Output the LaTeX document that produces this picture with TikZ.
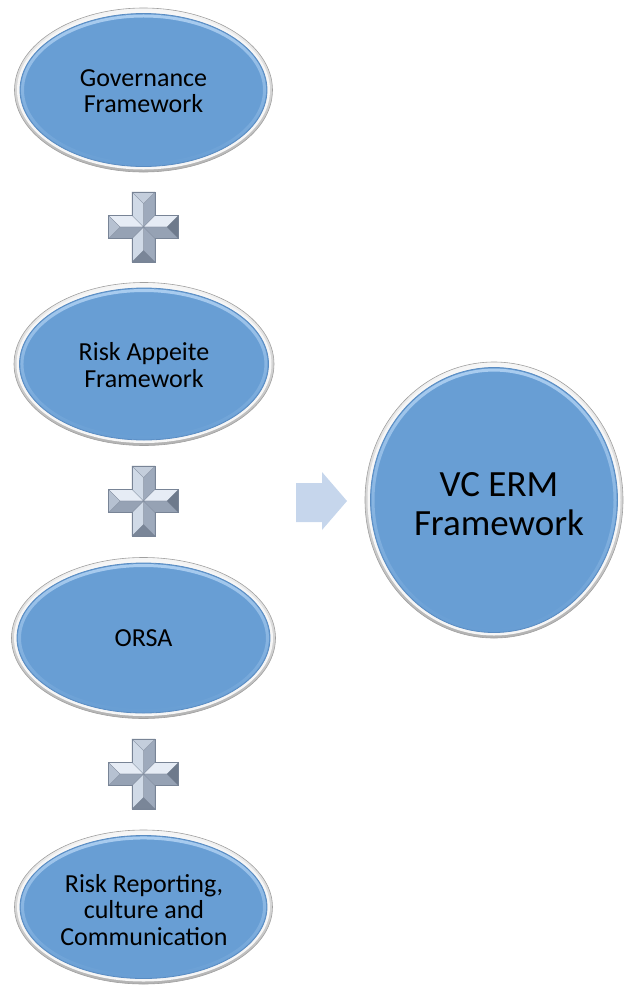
\documentclass[tikz,border=0pt]{standalone}
\usepackage{fontspec}
\setmainfont{Carlito}
\usetikzlibrary{shapes.geometric,fadings}

\definecolor{bubbleblue}{RGB}{104,158,212}
\definecolor{bubbleedge}{RGB}{90,140,194}
\definecolor{bubbleglow}{RGB}{170,205,240}
\definecolor{rimgray}{RGB}{160,160,160}
\definecolor{rimlight}{RGB}{246,246,246}
\definecolor{arrowblue}{RGB}{198,214,236}
\definecolor{plusA}{RGB}{230,236,245}
\definecolor{plusB}{RGB}{208,218,231}
\definecolor{plusC}{RGB}{158,170,188}
\definecolor{plusD}{RGB}{150,162,180}
\definecolor{plusE}{RGB}{196,206,220}
\definecolor{plusF}{RGB}{122,134,152}
\definecolor{plusG}{RGB}{182,193,209}
\definecolor{plusH}{RGB}{110,122,140}
\definecolor{plusline}{RGB}{120,132,150}

\tikzset{
  rimout/.style={ellipse, inner sep=0pt, draw=rimgray, line width=0.6pt,
    top color=rimlight, bottom color=rimgray!80},
  rimin/.style={ellipse, inner sep=0pt, fill=rimlight},
  bluebody/.style={ellipse, inner sep=0pt, fill=bubbleblue, draw=bubbleedge, line width=0.8pt},
  glow/.style={draw=bubbleglow, line width=3pt, path fading=south},
  smalltext/.style={align=center, text=black, font=\fontsize{26}{26.5}\selectfont},
  bigtext/.style={align=center, text=black, font=\fontsize{37}{39}\selectfont},
  facet/.style={draw=plusline, line width=0.3pt, line join=round},
}

% #1 name, #2 centre, #3 x radius, #4 y radius, #5 text style, #6 text, #7 text position
\newcommand\bubble[7]{%
  \node[rimout, minimum width={2*#3*1pt}, minimum height={2*#4*1pt}] (#1-rim) at #2 {};
  \node[rimin, minimum width={(2*#3-5)*1pt}, minimum height={(2*#4-5)*1pt}] at #2 {};
  \node[bluebody, minimum width={(2*#3-11)*1pt}, minimum height={(2*#4-11)*1pt}] (#1) at #2 {};
  \draw[glow] #2 ellipse [x radius=#3-8, y radius=#4-8];
  \node[#5] (#1-text) at #7 {#6};
}

% bevelled silver plus sign centred on a named coordinate
\newcommand\plussign[2]{%
  \coordinate (#1) at #2;
  \begin{scope}[shift={(#1)}]
    \def\w{11.5}\def\L{35}
    % top arm
    \fill[plusB, facet] (0,0) -- (-\w,-\w) -- (-\w,-\L) -- (0,-\L+\w) -- cycle;
    \fill[plusC, facet] (0,0) -- (\w,-\w) -- (\w,-\L) -- (0,-\L+\w) -- cycle;
    \fill[plusE, facet] (-\w,-\L) -- (\w,-\L) -- (0,-\L+\w) -- cycle;
    % bottom arm
    \fill[plusB, facet] (0,0) -- (-\w,\w) -- (-\w,\L) -- (0,\L-\w) -- cycle;
    \fill[plusC, facet] (0,0) -- (\w,\w) -- (\w,\L) -- (0,\L-\w) -- cycle;
    \fill[plusF, facet] (-\w,\L) -- (\w,\L) -- (0,\L-\w) -- cycle;
    % left arm
    \fill[plusA, facet] (0,0) -- (-\w,-\w) -- (-\L,-\w) -- (-\L+\w,0) -- cycle;
    \fill[plusD, facet] (0,0) -- (-\w,\w) -- (-\L,\w) -- (-\L+\w,0) -- cycle;
    \fill[plusG, facet] (-\L,-\w) -- (-\L,\w) -- (-\L+\w,0) -- cycle;
    % right arm
    \fill[plusA, facet] (0,0) -- (\w,-\w) -- (\L,-\w) -- (\L-\w,0) -- cycle;
    \fill[plusD, facet] (0,0) -- (\w,\w) -- (\L,\w) -- (\L-\w,0) -- cycle;
    \fill[plusH, facet] (\L,-\w) -- (\L,\w) -- (\L-\w,0) -- cycle;
    % outline
    \draw[plusline, line width=0.5pt, line join=miter]
      (-\w,-\L) -- (\w,-\L) -- (\w,-\w) -- (\L,-\w) -- (\L,\w) -- (\w,\w) --
      (\w,\L) -- (-\w,\L) -- (-\w,\w) -- (-\L,\w) -- (-\L,-\w) -- (-\w,-\w) -- cycle;
  \end{scope}
}

\begin{document}
\begin{tikzpicture}[x=1pt, y=-1pt]
  \useasboundingbox (0,0) rectangle (624,989);

  % the four building blocks
  \bubble{gov}{(143.5,90)}{129}{82}{smalltext}{Governance\\Framework}{(143.5,91)}
  \bubble{rap}{(144,364)}{130}{81.5}{smalltext}{Risk Appeite\\Framework}{(144,365)}
  \bubble{orsa}{(143.5,638)}{132}{80.5}{smalltext}{ORSA}{(143.5,638)}
  \bubble{rrc}{(143.5,907)}{129}{77}{smalltext}{Risk Reporting,\\culture and\\Communication}{(144,910)}

  % plus signs between the blocks
  \plussign{p1}{(143.5,227)}
  \plussign{p2}{(143.5,501)}
  \plussign{p3}{(143.5,774)}

  % block arrow towards the result
  \fill[arrowblue] (296,483) -- (322,483) -- (322,472) -- (347,501) --
    (322,530) -- (322,522) -- (296,522) -- cycle;

  % result
  \bubble{erm}{(494,500)}{129}{138}{bigtext}{VC ERM\\Framework}{(499,504)}
\end{tikzpicture}
\end{document}
